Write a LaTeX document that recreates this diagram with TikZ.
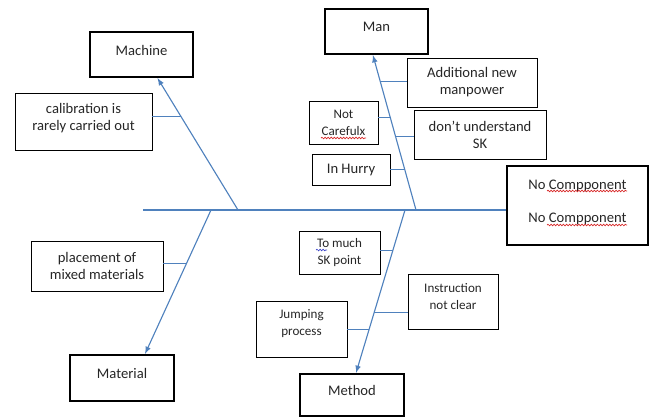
\documentclass[tikz,border=0pt]{standalone}
\usepackage{fontspec}
\setmainfont{Carlito}
\usetikzlibrary{positioning, decorations.pathmorphing}
\usepackage{xcolor}
\definecolor{boneblue}{RGB}{79, 129, 189}
\definecolor{spellred}{RGB}{215, 40, 40}
\definecolor{spellblue}{RGB}{60, 70, 200}
\newcommand\fishfont{\fontsize{10.4}{12.2}\selectfont}
\newcommand\fishsmall{\fontsize{9.3}{12.2}\selectfont}

\begin{document}
\begin{tikzpicture}[x=0.025cm, y=-0.025cm,
    headbox/.style={draw, rectangle, line width=1.5pt, inner sep=0pt, text=black!85, font=\fishfont, text depth=6pt},
    causebox/.style={draw, rectangle, line width=0.6pt, inner sep=0pt, text=black!85, font=\fishfont, align=center},
    bone/.style={draw=boneblue, line width=0.8pt},
    twig/.style={draw=boneblue, line width=0.7pt},
    spellwave/.style={draw=#1, line width=0.5pt, decorate, decoration={snake, segment length=2.2pt, amplitude=0.55pt}}]
    \useasboundingbox (0,0) rectangle (655,418);

    % category heads and effect
    \node[headbox, minimum width=2.575cm, minimum height=1.125cm] (machine) at (141.5,54.5) {Machine};
    \node[headbox, minimum width=2.575cm, minimum height=1.125cm] (man) at (376.5,31.5) {Man};
    \node[headbox, minimum width=2.6cm, minimum height=1.15cm] (material) at (122,378) {Material};
    \node[headbox, minimum width=2.6cm, minimum height=1.05cm] (method) at (352,395) {Method};
    \node[headbox, align=center, text depth=6pt, minimum width=3.525cm, minimum height=1.975cm] (effect) at (577.5,205.5) {No Compponent\\[11pt]No Compponent};

    % causes
    \node[causebox, text depth=6pt, minimum width=3.425cm, minimum height=1.425cm] (calib) at (83.5,121.5) {calibration is\\rarely carried out};
    \node[causebox, minimum width=3.3cm, minimum height=1.25cm] (placement) at (97,266) {placement of\\mixed materials};
    \node[causebox, minimum width=3.25cm, minimum height=1.225cm] (addl) at (472,82.5) {Additional new\\manpower};
    \node[causebox, font=\fishsmall, minimum width=1.725cm, minimum height=1.075cm] (careless) at (343.5,122.5) {Not\\Carefulx};
    \node[causebox, minimum width=3.3cm, minimum height=1.225cm] (dontsk) at (480,134.5) {don't understand\\SK};
    \node[causebox, minimum width=1.95cm, minimum height=0.775cm] (hurry) at (351,169.5) {In Hurry};
    \node[causebox, font=\fishsmall, minimum width=2.025cm, minimum height=1.075cm] (tomuch) at (339.5,252.5) {To much\\SK point};
    \node[causebox, font=\fishsmall, text depth=7pt, minimum width=2.25cm, minimum height=1.375cm] (instr) at (453,301.5) {Instruction\\not clear};
    \node[causebox, font=\fishsmall, text depth=9pt, minimum width=2.275cm, minimum height=1.4cm] (jump) at (301.5,329) {Jumping\\process};

    % spell-check squiggles
    \draw[spellwave=spellred] ([shift={(-30.5,-14.5)}]effect.center) -- ([shift={(49.5,-14.5)}]effect.center);
    \draw[spellwave=spellred] ([shift={(-30.5,19.5)}]effect.center) -- ([shift={(49.5,19.5)}]effect.center);
    \draw[spellwave=spellred] ([shift={(-22.5,15.5)}]careless.center) -- ([shift={(22.5,15.5)}]careless.center);
    \draw[spellwave=spellblue] ([shift={(-23.5,-2.5)}]tomuch.center) -- ([shift={(-12.5,-2.5)}]tomuch.center);

    % spine and bones
    \coordinate (tail) at (143,210);
    \coordinate (machinefoot) at (238,210);
    \coordinate (manfoot) at (416,210);
    \coordinate (materialfoot) at (211,210);
    \coordinate (methodfoot) at (405,210);
    \draw[bone] (tail) -- (tail -| effect.west);
    \draw[bone, -latex] (machinefoot) -- coordinate[pos=0.71] (mc1) ([xshift=0.4cm]machine.south);
    \draw[bone, -latex] (manfoot) -- coordinate[pos=0.831] (mn1) coordinate[pos=0.597] (mn2)
        coordinate[pos=0.474] (mn3) coordinate[pos=0.26] (mn4) ([xshift=-0.09cm]man.south);
    \draw[bone, -latex] (materialfoot) -- coordinate[pos=0.375] (mt1) ([xshift=0.575cm]material.north);
    \draw[bone, -latex] (methodfoot) -- coordinate[pos=0.25] (md1) coordinate[pos=0.626] (md2)
        coordinate[pos=0.736] (md3) ([xshift=0.1cm]method.north);

    % twigs
    \draw[twig] (calib.east |- mc1) -- (mc1);
    \draw[twig] (addl.west |- mn1) -- (mn1);
    \draw[twig] (careless.east |- mn2) -- (mn2);
    \draw[twig] (dontsk.west |- mn3) -- (mn3);
    \draw[twig] (hurry.east |- mn4) -- (mn4);
    \draw[twig] (placement.east |- mt1) -- (mt1);
    \draw[twig] (tomuch.east |- md1) -- (md1);
    \draw[twig] (instr.west |- md2) -- (md2);
    \draw[twig] (jump.east |- md3) -- (md3);
\end{tikzpicture}
\end{document}
